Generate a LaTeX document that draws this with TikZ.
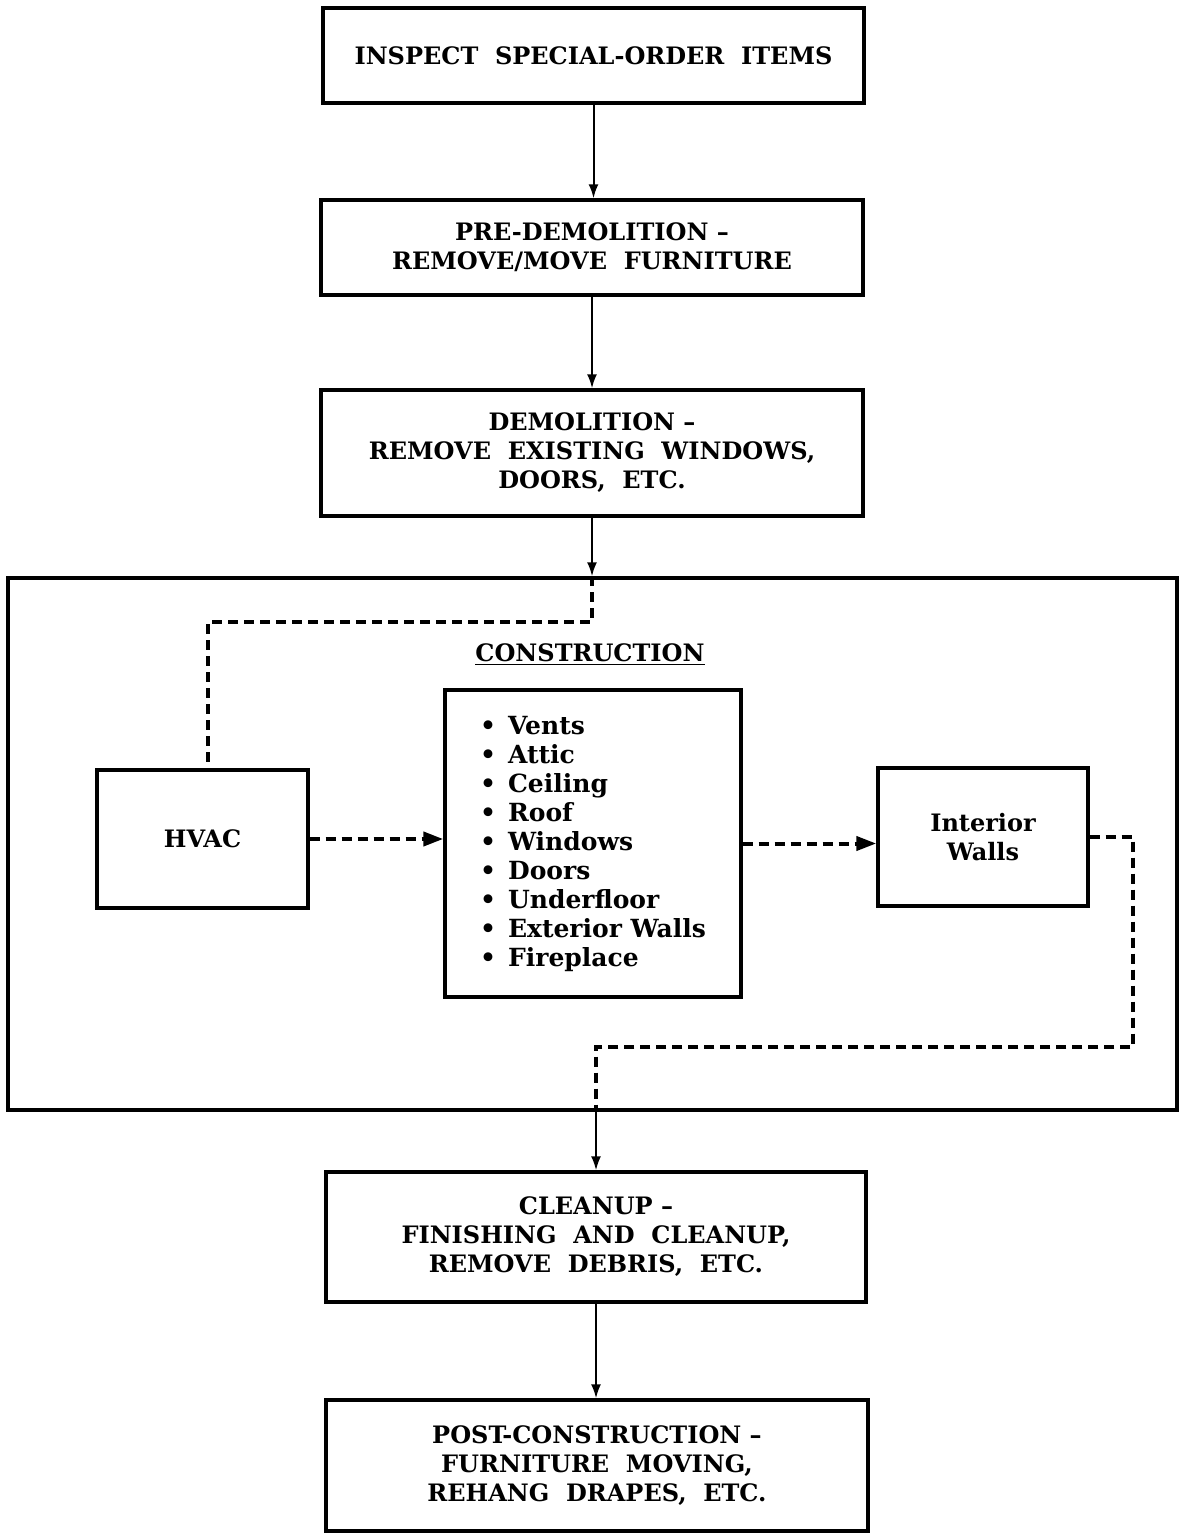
\documentclass[tikz,border=0pt]{standalone}
\usepackage{fontspec}
\setmainfont{DejaVu Serif}
\usetikzlibrary{arrows.meta,calc}
\begin{document}
\begin{tikzpicture}[x=0.5pt,y=-0.5pt,
  box/.style={draw,line width=1.7pt,inner sep=0pt,align=center,
    font=\bfseries\fontsize{12}{14.5}\selectfont},
  flow/.style={line width=1pt,-{Latex[length=7pt,width=5pt]}},
  dflow/.style={line width=2pt,dash pattern=on 5pt off 3pt},
  dflowarr/.style={dflow,-{Triangle[length=10pt,width=7pt]}}
]
\useasboundingbox (0,0) rectangle (1178,1534);
\node[box,minimum width=270.5pt,minimum height=47.5pt] (b1) at (593.5,55.5) {INSPECT\ \ SPECIAL-ORDER\ \ ITEMS};
\node[box,minimum width=271pt,minimum height=47.5pt] (b2) at (592,247.5) {PRE-DEMOLITION –\\REMOVE/MOVE\ \ FURNITURE};
\node[box,minimum width=271pt,minimum height=63pt] (b3) at (592,453) {DEMOLITION –\\REMOVE\ \ EXISTING\ \ WINDOWS,\\DOORS,\ \ ETC.};
\node[draw,line width=1.7pt,minimum width=584.5pt,minimum height=266pt,inner sep=0pt] (cons) at (592.5,844) {};
\node[font=\bfseries\fontsize{12}{14.5}\selectfont,inner sep=0pt] (ctitle) at (590,655) {\underline{CONSTRUCTION}};
\node[box,minimum width=105.5pt,minimum height=69pt] (hvac) at (202.5,839) {HVAC};
\node[box,minimum width=148pt,minimum height=153.5pt,align=left,
  font=\bfseries\fontsize{12.5}{14.5}\selectfont] (list) at (593,843.5)
  {\textbullet\hspace{6pt}Vents\\\textbullet\hspace{6pt}Attic\\\textbullet\hspace{6pt}Ceiling\\\textbullet\hspace{6pt}Roof\\\textbullet\hspace{6pt}Windows\\\textbullet\hspace{6pt}Doors\\\textbullet\hspace{6pt}Underfloor\\\textbullet\hspace{6pt}Exterior Walls\\\textbullet\hspace{6pt}Fireplace};
\node[box,minimum width=105pt,minimum height=69pt] (iw) at (983,837) {Interior\\Walls};
\node[box,minimum width=270pt,minimum height=65pt] (cl) at (596,1237) {CLEANUP –\\FINISHING\ \ AND\ \ CLEANUP,\\REMOVE\ \ DEBRIS,\ \ ETC.};
\node[box,minimum width=271pt,minimum height=65.5pt] (post) at (597,1465.5) {POST-CONSTRUCTION –\\FURNITURE\ \ MOVING,\\REHANG\ \ DRAPES,\ \ ETC.};
\coordinate (hv) at (208,622);
\coordinate (r1) at (1133,1047);
\coordinate (r2) at (596,1047);
\draw[flow] (b1.south) -- (b1.south |- b2.north);
\draw[flow] (b2.south) -- (b2.south |- b3.north);
\draw[flow] (b3.south) -- (b3.south |- cons.north);
\draw[dflow] (b3.south |- cons.north) |- (hv) -- (hv |- hvac.north);
\draw[dflowarr] (hvac.east) -- (hvac.east -| list.west);
\draw[dflowarr] (list.east) -- (list.east -| iw.west);
\draw[dflow] (iw.east) -| (r1) -- (r2) -- (r2 |- cons.south);
\draw[flow] (r2 |- cons.south) -- (r2 |- cl.north);
\draw[flow] (cl.south) -- (cl.south |- post.north);
\end{tikzpicture}
\end{document}
